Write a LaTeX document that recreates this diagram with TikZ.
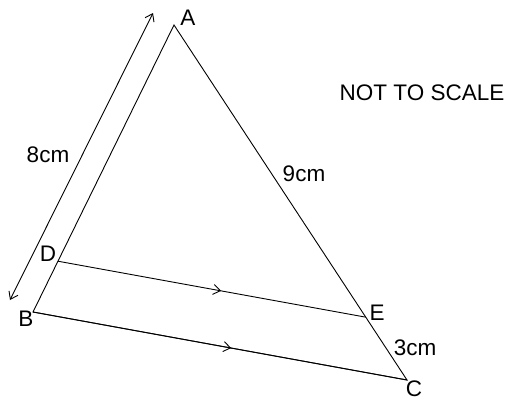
\documentclass[tikz,border=0pt]{standalone}
\usepackage{fontspec}
\setmainfont{Liberation Sans}
\usetikzlibrary{arrows.meta,decorations.markings,calc}

\tikzset{barbtip/.tip={Straight Barb[length=7pt,width=10pt]}}

\begin{document}
\begin{tikzpicture}[x=1pt,y=-1pt,line width=0.9pt,
    lbl/.style={font=\fontsize{22.5}{27}\selectfont, inner sep=0pt},
    midarrow/.style={postaction={decorate},
      decoration={markings,mark=at position 0.53 with {\arrow{barbtip}}}}]
    \useasboundingbox (0,0) rectangle (509,400);
    % triangle and parallel line
    \coordinate (A) at (174,25);
    \coordinate (B) at (33,312);
    \coordinate (C) at (407,380);
    \coordinate (D) at ($(A)!0.823!(B)$);
    \coordinate (E) at ($(A)!0.823!(C)$);
    \draw (A) -- (B) -- (C) -- cycle;
    \draw[midarrow] (D) -- (E);
    \draw[midarrow] (B) -- (C);
    % length of AB
    \coordinate (top) at (153,13);
    \coordinate (bot) at (10,300);
    \draw[barbtip-barbtip] (bot) -- (top);
    % labels
    \node[lbl] (lA) at (188,18) {A};
    \node[lbl] (lB) at (26,319) {B};
    \node[lbl] (lC) at (414,389) {C};
    \node[lbl] (lD) at (48,254) {D};
    \node[lbl] (lE) at (377,313) {E};
    \node[lbl] (l8) at (48,155) {8cm};
    \node[lbl] (l9) at (304,174) {9cm};
    \node[lbl] (l3) at (415,348) {3cm};
    \node[lbl] (note) at (422,93) {NOT TO SCALE};
\end{tikzpicture}
\end{document}
